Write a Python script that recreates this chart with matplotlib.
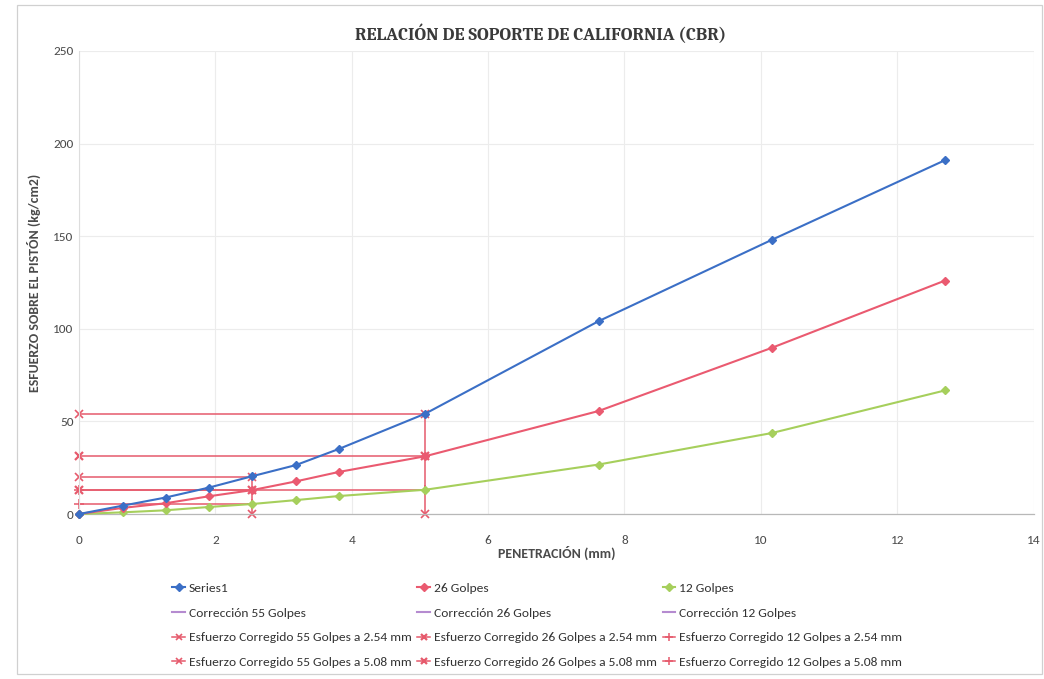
import matplotlib
matplotlib.use("Agg")
import matplotlib.pyplot as plt
from matplotlib import font_manager
from matplotlib.patches import Rectangle

# ---- data -------------------------------------------------------------
penetracion = [0, 0.64, 1.27, 1.91, 2.54, 3.18, 3.81, 5.08, 7.62, 10.16, 12.7]
golpes_55 = [0, 4.5, 8.9, 14.3, 20.4, 26.4, 35.1, 54.2, 104.1, 148.0, 191.0]
golpes_26 = [0, 3.3, 5.8, 9.6, 12.9, 17.6, 22.7, 31.2, 55.6, 89.7, 126.0]
golpes_12 = [0, 0.9, 2.0, 3.8, 5.4, 7.5, 9.7, 13.1, 26.7, 43.7, 66.7]

# corrected stresses read at 2.54 mm and 5.08 mm
corr_55_254 = 20.2
corr_55_508 = 54.2
corr_26_254 = 13.0
corr_26_508 = 31.2
corr_12_254 = 5.4
corr_12_508 = 13.0

x_ticks = [0, 2, 4, 6, 8, 10, 12, 14]
y_ticks = [0, 50, 100, 150, 200, 250]

title = "RELACIÓN DE SOPORTE DE CALIFORNIA (CBR)"
x_label = "PENETRACIÓN (mm)"
y_label = "ESFUERZO SOBRE EL PISTÓN (kg/cm2)"

# ---- fonts ------------------------------------------------------------
installed = {f.name for f in font_manager.fontManager.ttflist}


def pick(*names):
    return [n for n in names if n in installed] + ["DejaVu Sans"]


sans = pick("Carlito", "Lato", "Open Sans")
serif = pick("Caladea", "Liberation Serif", "DejaVu Serif")
plt.rcParams["font.family"] = sans

# ---- colours ----------------------------------------------------------
c_blue = "#3b6fc6"
c_red = "#ea5a70"
c_green = "#a6cf5c"
c_corr = "#e65a6c"
c_purple = "#b58bd0"
c_text = "#4a4a4a"

fig = plt.figure(figsize=(10.44, 6.79), dpi=100)
ax = fig.add_axes([0.0757, 0.243, 0.9143, 0.682])

# chart frame
fig.patches.append(Rectangle((0.016, 0.008), 0.982, 0.984, transform=fig.transFigure,
                             fill=False, edgecolor="#d0d0d0", linewidth=0.9))

# main curves
h1, = ax.plot(penetracion, golpes_55, color=c_blue, lw=1.5, marker="D", ms=4.5,
              label="Series1", zorder=5, clip_on=False)
h2, = ax.plot(penetracion, golpes_26, color=c_red, lw=1.5, marker="D", ms=4.5,
              label="26 Golpes", zorder=4, clip_on=False)
h3, = ax.plot(penetracion, golpes_12, color=c_green, lw=1.5, marker="D", ms=4.5,
              label="12 Golpes", zorder=3, clip_on=False)

# correction curves (legend only)
h4, = ax.plot([], [], color=c_purple, lw=1.5, label="Corrección 55 Golpes")
h5, = ax.plot([], [], color=c_purple, lw=1.5, label="Corrección 26 Golpes")
h6, = ax.plot([], [], color=c_purple, lw=1.5, label="Corrección 12 Golpes")

# corrected stress guides
guide = dict(color=c_corr, lw=1.1, zorder=2, clip_on=False)
h7, = ax.plot([0, 2.54, 2.54], [corr_55_254, corr_55_254, 0], marker="x", ms=6,
              mew=1.2, label="Esfuerzo Corregido 55 Golpes a 2.54 mm", **guide)
h8, = ax.plot([0, 2.54], [corr_26_254, corr_26_254], marker="x", ms=6, mew=1.6,
              label="Esfuerzo Corregido 26 Golpes a 2.54 mm", **guide)
h9, = ax.plot([0, 2.54], [corr_12_254, corr_12_254], marker="+", ms=7, mew=1.1,
              label="Esfuerzo Corregido 12 Golpes a 2.54 mm", **guide)
h10, = ax.plot([0, 5.08, 5.08], [corr_55_508, corr_55_508, 0], marker="x", ms=6,
               mew=1.2, label="Esfuerzo Corregido 55 Golpes a 5.08 mm", **guide)
h11, = ax.plot([0, 5.08], [corr_26_508, corr_26_508], marker="x", ms=6, mew=1.6,
               label="Esfuerzo Corregido 26 Golpes a 5.08 mm", **guide)
h12, = ax.plot([0, 5.08], [corr_12_508, corr_12_508], marker="+", ms=7, mew=1.1,
               label="Esfuerzo Corregido 12 Golpes a 5.08 mm", **guide)

# ---- axes -------------------------------------------------------------
ax.set_xlim(0, 14)
ax.set_ylim(0, 250)
ax.set_xticks(x_ticks)
ax.set_yticks(y_ticks)
ax.set_xticklabels([str(v) for v in x_ticks])
ax.set_yticklabels([str(v) for v in y_ticks])
ax.tick_params(axis="both", length=0, labelsize=9.5, labelcolor=c_text)
ax.tick_params(axis="x", pad=15)
ax.tick_params(axis="y", pad=4)
ax.grid(True, color="#ececec", lw=0.8)
ax.set_axisbelow(True)
for side in ("top", "right"):
    ax.spines[side].set_visible(False)
ax.spines["left"].set_color("#dddddd")
ax.spines["bottom"].set_color("#b8b8b8")
ax.spines["left"].set_linewidth(0.8)
ax.spines["bottom"].set_linewidth(0.9)

ax.set_xlabel(x_label, fontsize=10, fontweight="bold", color=c_text, labelpad=0)
ax.set_ylabel(y_label, fontsize=10, fontweight="bold", color=c_text, labelpad=9)
fig.text(0.518, 0.950, title, ha="center", va="center", fontsize=13,
         fontweight="bold", color="#3a3a3a", family=serif)

handles = [h1, h4, h7, h10, h2, h5, h8, h11, h3, h6, h9, h12]
leg = fig.legend(handles=handles, labels=[h.get_label() for h in handles],
                 ncol=3, loc="upper left", bbox_to_anchor=(0.160, 0.150),
                 frameon=False, fontsize=9.7, labelcolor="#333333",
                 handlelength=0.95, handletextpad=0.25, columnspacing=0.45,
                 labelspacing=0.98, borderaxespad=0, markerscale=0.8)

fig.savefig("out.png", dpi=100, facecolor="white")
